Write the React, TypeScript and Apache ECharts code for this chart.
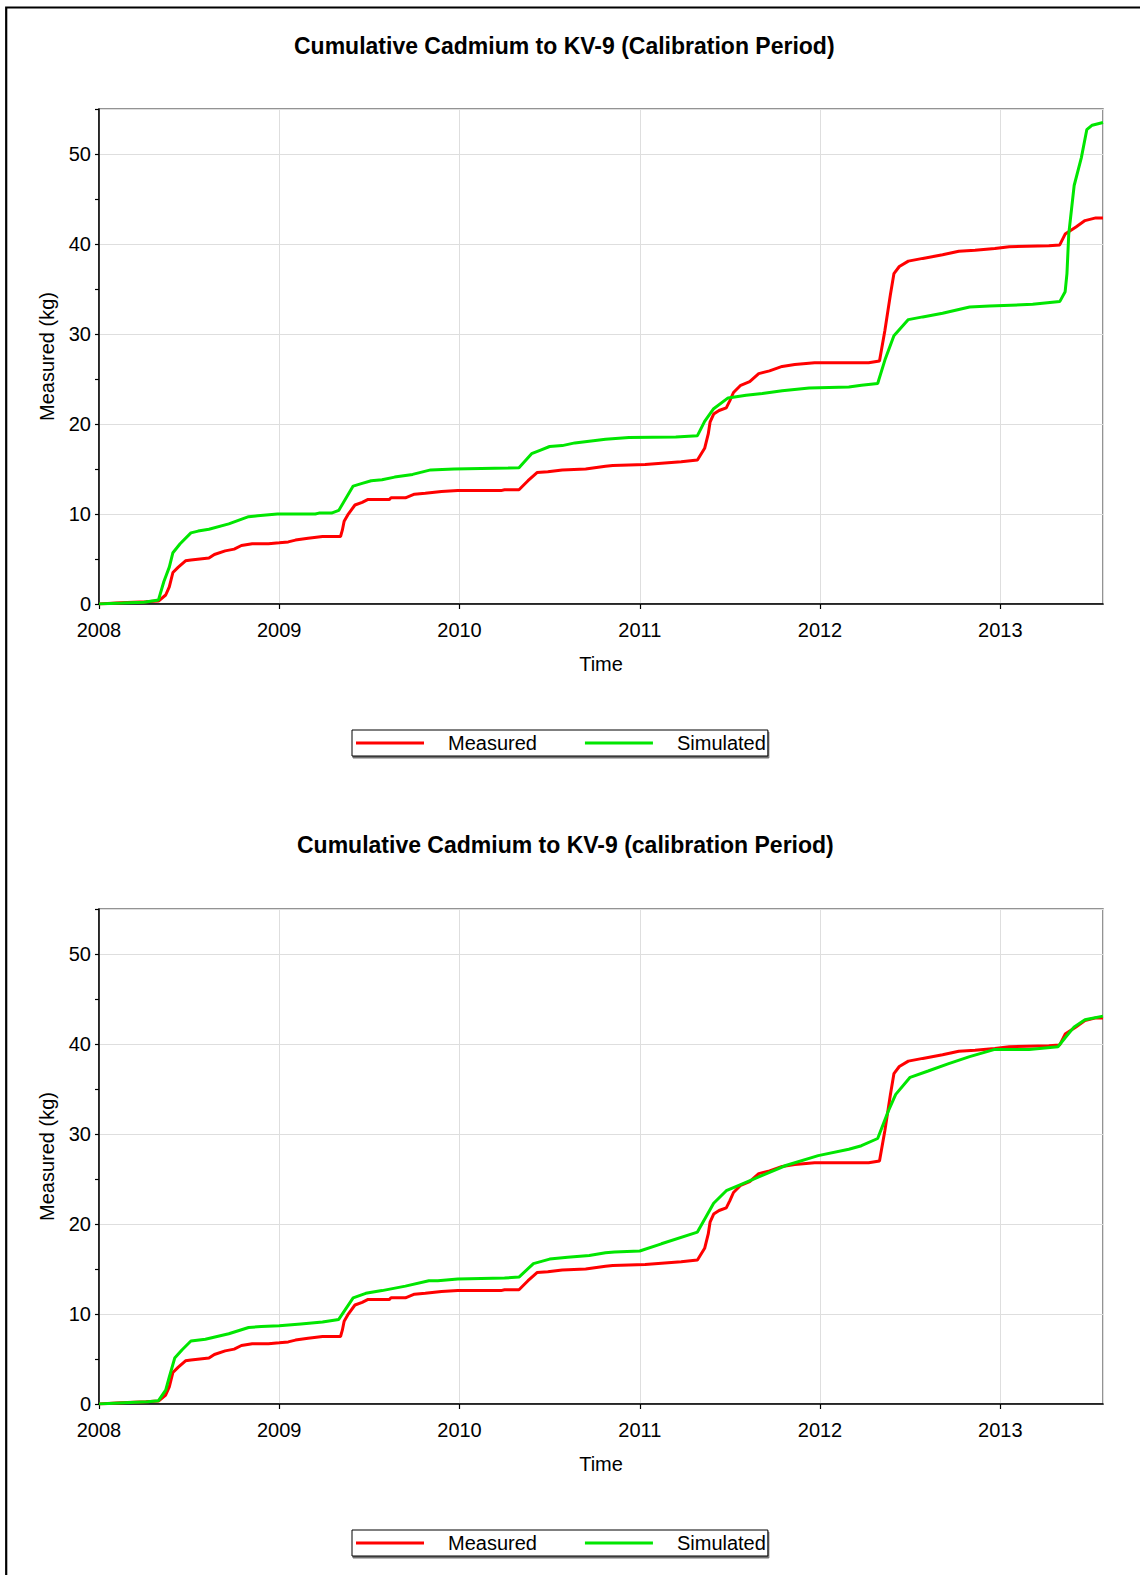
import React, { useEffect, useRef } from "react";
import * as echarts from "echarts";

// ---- data (time in decimal years, value in kg) ----
const MEAS_T = [2008.0, 2008.12, 2008.26, 2008.33, 2008.37, 2008.39, 2008.41, 2008.44, 2008.48, 2008.51, 2008.61, 2008.64, 2008.70, 2008.75, 2008.79, 2008.85, 2008.94, 2009.0, 2009.05, 2009.09, 2009.16, 2009.24, 2009.34, 2009.35, 2009.36, 2009.38, 2009.42, 2009.46, 2009.49, 2009.61, 2009.62, 2009.70, 2009.75, 2009.81, 2009.90, 2009.99, 2010.23, 2010.25, 2010.33, 2010.38, 2010.43, 2010.49, 2010.57, 2010.70, 2010.81, 2010.85, 2011.03, 2011.23, 2011.32, 2011.36, 2011.38, 2011.39, 2011.41, 2011.44, 2011.48, 2011.50, 2011.52, 2011.56, 2011.61, 2011.66, 2011.72, 2011.79, 2011.86, 2011.97, 2012.27, 2012.33, 2012.36, 2012.39, 2012.41, 2012.44, 2012.49, 2012.57, 2012.68, 2012.77, 2012.86, 2012.97, 2013.05, 2013.27, 2013.33, 2013.36, 2013.42, 2013.47, 2013.53, 2013.57];
const MEAS_V = [0, 0.15, 0.25, 0.33, 1.0, 1.9, 3.5, 4.1, 4.8, 4.9, 5.1, 5.5, 5.9, 6.1, 6.5, 6.7, 6.7, 6.8, 6.9, 7.1, 7.3, 7.5, 7.5, 8.2, 9.2, 9.9, 11.0, 11.3, 11.6, 11.6, 11.8, 11.8, 12.2, 12.3, 12.5, 12.6, 12.6, 12.7, 12.7, 13.7, 14.6, 14.7, 14.9, 15.0, 15.3, 15.4, 15.5, 15.8, 16.0, 17.3, 18.9, 20.2, 21.1, 21.5, 21.8, 22.6, 23.5, 24.3, 24.7, 25.6, 25.9, 26.4, 26.6, 26.8, 26.8, 27.0, 30.4, 34.3, 36.7, 37.5, 38.1, 38.4, 38.8, 39.2, 39.3, 39.5, 39.7, 39.8, 39.9, 41.1, 41.9, 42.6, 42.9, 42.9];

const SIM1_T = [2008.0, 2008.13, 2008.25, 2008.33, 2008.36, 2008.39, 2008.41, 2008.45, 2008.51, 2008.55, 2008.61, 2008.72, 2008.83, 2008.88, 2008.99, 2009.20, 2009.22, 2009.29, 2009.33, 2009.41, 2009.46, 2009.51, 2009.57, 2009.64, 2009.74, 2009.84, 2009.97, 2010.27, 2010.33, 2010.40, 2010.45, 2010.50, 2010.57, 2010.64, 2010.81, 2010.94, 2011.20, 2011.32, 2011.36, 2011.41, 2011.49, 2011.59, 2011.68, 2011.79, 2011.94, 2012.16, 2012.23, 2012.32, 2012.36, 2012.41, 2012.49, 2012.57, 2012.68, 2012.83, 2012.94, 2013.18, 2013.33, 2013.36, 2013.37, 2013.38, 2013.41, 2013.45, 2013.48, 2013.51, 2013.57];
const SIM1_V = [0, 0.1, 0.2, 0.45, 2.5, 4.1, 5.7, 6.7, 7.9, 8.1, 8.3, 8.9, 9.7, 9.8, 10.0, 10.0, 10.1, 10.1, 10.4, 13.1, 13.4, 13.7, 13.8, 14.1, 14.4, 14.9, 15.0, 15.1, 15.15, 16.7, 17.1, 17.5, 17.6, 17.9, 18.3, 18.5, 18.55, 18.7, 20.3, 21.7, 22.9, 23.2, 23.4, 23.7, 24.0, 24.1, 24.3, 24.5, 27.1, 29.8, 31.6, 31.9, 32.3, 33.0, 33.1, 33.3, 33.6, 34.7, 36.7, 41.1, 46.5, 49.6, 52.7, 53.2, 53.5];

const SIM2_T = [2008.0, 2008.14, 2008.27, 2008.33, 2008.37, 2008.39, 2008.42, 2008.46, 2008.51, 2008.59, 2008.72, 2008.83, 2008.90, 2009.0, 2009.12, 2009.24, 2009.33, 2009.41, 2009.48, 2009.57, 2009.70, 2009.83, 2009.88, 2009.99, 2010.25, 2010.33, 2010.41, 2010.50, 2010.60, 2010.72, 2010.81, 2010.86, 2011.0, 2011.12, 2011.32, 2011.41, 2011.48, 2011.55, 2011.68, 2011.81, 2011.99, 2012.16, 2012.23, 2012.32, 2012.38, 2012.42, 2012.50, 2012.60, 2012.71, 2012.83, 2012.97, 2013.16, 2013.32, 2013.36, 2013.41, 2013.47, 2013.57];
const SIM2_V = [0, 0.15, 0.25, 0.37, 1.55, 3.0, 5.1, 6.0, 7.0, 7.2, 7.8, 8.5, 8.6, 8.7, 8.9, 9.1, 9.4, 11.8, 12.3, 12.6, 13.1, 13.7, 13.7, 13.9, 14.0, 14.1, 15.6, 16.1, 16.3, 16.5, 16.8, 16.9, 17.0, 17.8, 19.1, 22.3, 23.7, 24.3, 25.4, 26.5, 27.6, 28.3, 28.7, 29.5, 32.6, 34.4, 36.3, 37.0, 37.8, 38.6, 39.4, 39.4, 39.7, 40.7, 41.9, 42.7, 43.1];

const SERIES_NAMES = ["Measured", "Simulated"];
const TITLES = [
  "Cumulative Cadmium to KV-9 (Calibration Period)",
  "Cumulative Cadmium to KV-9 (calibration Period)",
];
const X_MIN = 2008;
const X_MAX = 2013.57;
const Y_MAX = 55;

const FONT = "'Liberation Sans', Arial, sans-serif";
const RED = "#ff0000";
const GREEN = "#00e600";

const zip = (t: number[], v: number[]) => t.map((x, i) => [x, v[i]]);

export default function App() {
  const ref = useRef<HTMLDivElement>(null);

  useEffect(() => {
    if (!ref.current) return;
    const chart = echarts.init(ref.current, null, { renderer: "svg" });

    const grids = [
      { left: 99, top: 109, width: 1004, height: 495 },
      { left: 99, top: 909, width: 1004, height: 495 },
    ];

    const xAxes: any[] = [];
    const yAxes: any[] = [];
    grids.forEach((_, gi) => {
      xAxes.push({
        type: "value",
        gridIndex: gi,
        min: X_MIN,
        max: X_MAX,
        interval: 1,
        name: "Time",
        nameLocation: "middle",
        nameGap: 50,
        nameTextStyle: { fontFamily: FONT, fontSize: 20, color: "#000" },
        axisLine: { show: true, onZero: false, lineStyle: { color: "#000", width: 1.5 } },
        axisTick: { show: true, length: 5, lineStyle: { color: "#000", width: 1.2 } },
        axisLabel: {
          fontFamily: FONT,
          fontSize: 20,
          color: "#000",
          margin: 16,
          showMaxLabel: false,
          formatter: (v: number) => (Math.abs(v - Math.round(v)) < 1e-6 ? String(Math.round(v)) : ""),
        },
        splitLine: { show: true, lineStyle: { color: "#dedede", width: 1 } },
      });
      yAxes.push({
        type: "value",
        gridIndex: gi,
        position: "left",
        min: 0,
        max: Y_MAX,
        interval: 10,
        name: "Measured (kg)",
        nameLocation: "middle",
        nameGap: 42,
        nameTextStyle: { fontFamily: FONT, fontSize: 20, color: "#000" },
        axisLine: { show: true, onZero: false, lineStyle: { color: "#000", width: 1.5 } },
        axisTick: { show: false },
        axisLabel: {
          fontFamily: FONT,
          fontSize: 20,
          color: "#000",
          margin: 8,
          formatter: (v: number) => (v % 10 === 0 ? String(v) : ""),
        },
        splitLine: { show: true, lineStyle: { color: "#dedede", width: 1 } },
      });
      yAxes.push({
        type: "value",
        gridIndex: gi,
        position: "left",
        offset: 0,
        min: 0,
        max: Y_MAX,
        interval: 5,
        axisLine: { show: false },
        axisTick: { show: true, length: 4, lineStyle: { color: "#000", width: 1.2 } },
        axisLabel: { show: false },
        splitLine: { show: false },
      });
    });

    const simData = [zip(SIM1_T, SIM1_V), zip(SIM2_T, SIM2_V)];
    const series: any[] = [];
    grids.forEach((_, gi) => {
      series.push({
        name: SERIES_NAMES[0],
        type: "line",
        xAxisIndex: gi,
        yAxisIndex: gi * 2,
        data: zip(MEAS_T, MEAS_V),
        symbol: "none",
        lineStyle: { color: RED, width: 3 },
        itemStyle: { color: RED },
        z: 3,
      });
      series.push({
        name: SERIES_NAMES[1],
        type: "line",
        xAxisIndex: gi,
        yAxisIndex: gi * 2,
        data: simData[gi],
        symbol: "none",
        lineStyle: { color: GREEN, width: 3 },
        itemStyle: { color: GREEN },
        z: 4,
      });
    });

    const legendTops = [730, 1530];
    const titleTops = [34, 833];
    const titleLefts = [294, 297];

    chart.setOption({
      animation: false,
      backgroundColor: "#fff",
      title: TITLES.map((t, i) => ({
        text: t,
        left: titleLefts[i],
        top: titleTops[i],
        padding: 0,
        textStyle: { fontFamily: FONT, fontSize: 23, fontWeight: "bold", color: "#000" },
      })),
      grid: grids.map((g) => ({
        ...g,
        show: true,
        borderColor: "#707070",
        borderWidth: 1.5,
        backgroundColor: "transparent",
      })),
      xAxis: xAxes,
      yAxis: yAxes,
      legend: legendTops.map((top) => ({
        data: SERIES_NAMES,
        left: 352,
        top,
        orient: "horizontal",
        icon: "rect",
        itemWidth: 68,
        itemHeight: 3,
        itemGap: 48,
        padding: [3, 2, 3, 4],
        borderColor: "#000",
        borderWidth: 1,
        backgroundColor: "#fff",
        shadowColor: "rgba(0,0,0,0.55)",
        shadowBlur: 1,
        shadowOffsetX: 1,
        shadowOffsetY: 2,
        selectedMode: false,
        textStyle: { fontFamily: FONT, fontSize: 20, color: "#000", padding: [0, 0, 0, 19] },
      })),
      graphic: [
        {
          type: "rect",
          silent: true,
          shape: { x: 6.2, y: 7.5, width: 1300, height: 1700 },
          style: { fill: "none", stroke: "#000", lineWidth: 2.2 },
          z: 100,
        },
      ],
      series,
    });

    return () => chart.dispose();
  }, []);

  return (
    <div
      ref={ref}
      style={{ position: "absolute", left: 0, top: 0, width: 1140, height: 1575 }}
    />
  );
}
